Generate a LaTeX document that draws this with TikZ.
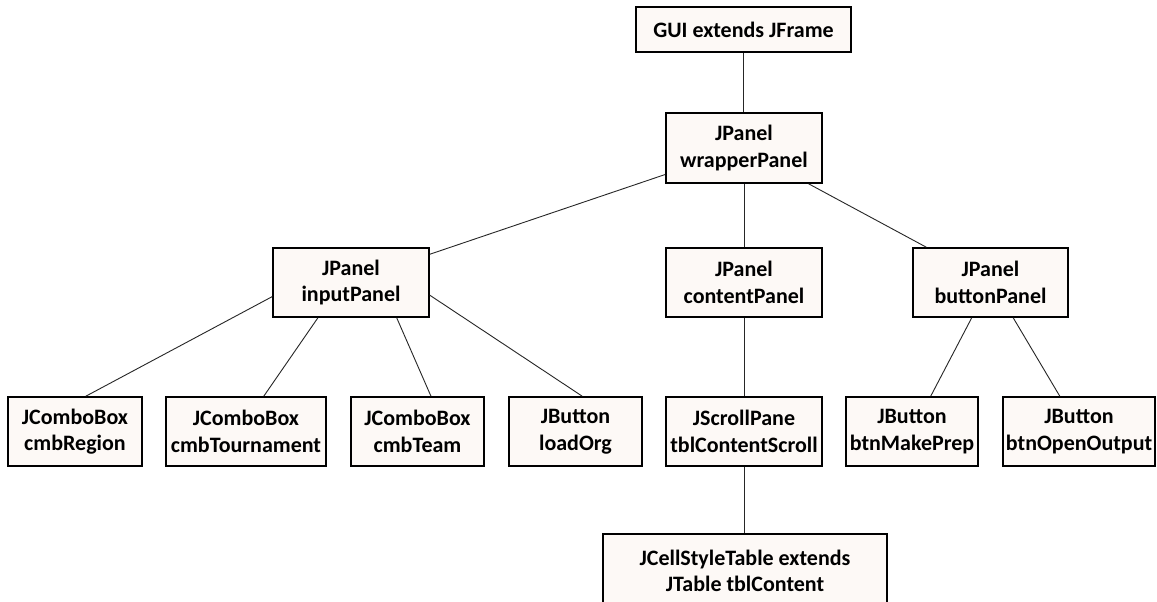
\documentclass[tikz,border=0pt]{standalone}
\usepackage{fontspec}
\setmainfont{Carlito}
\usetikzlibrary{calc,shadows}
\definecolor{boxfill}{RGB}{253,249,246}
\tikzset{
  cls/.style={draw=black, line width=1.6pt, fill=boxfill, inner sep=0pt,
    minimum height=69pt, align=center,
    font=\fontsize{22}{26.5}\selectfont\bfseries,
    drop shadow={shadow xshift=1.2pt, shadow yshift=-1.2pt, fill=black!30, opacity=0.6}},
  link/.style={draw=black!85, line width=0.9pt}
}
\begin{document}
\begin{tikzpicture}[x=1pt,y=-1pt]
\clip (0,0) rectangle (1157,602);
\fill[white] (0,0) rectangle (1157,602);
\node[cls, minimum width=215pt, minimum height=45pt] (gui) at (743.5,29.5) {GUI extends JFrame};
\node[cls, minimum width=156pt, minimum height=70pt] (wrap) at (744,148) {JPanel\\wrapperPanel};
\node[cls, minimum width=156pt] (inp) at (351,282.5) {JPanel\\inputPanel};
\node[cls, minimum width=156pt] (cont) at (744,282.5) {JPanel\\contentPanel};
\node[cls, minimum width=155pt] (btnp) at (990.5,282.5) {JPanel\\buttonPanel};
\node[cls, minimum width=134pt] (reg) at (75,431.5) {JComboBox\\cmbRegion};
\node[cls, minimum width=160pt] (tour) at (246,431.5) {JComboBox\\cmbTournament};
\node[cls, minimum width=133pt] (team) at (417.5,431.5) {JComboBox\\cmbTeam};
\node[cls, minimum width=133pt] (load) at (575.5,431.5) {JButton\\loadOrg};
\node[cls, minimum width=156pt] (scroll) at (744,431.5) {JScrollPane\\tblContentScroll};
\node[cls, minimum width=132pt] (make) at (912,431.5) {JButton\\btnMakePrep};
\node[cls, minimum width=152pt] (open) at (1079,431.5) {JButton\\btnOpenOutput};
\node[cls, minimum width=284pt, minimum height=74pt] (table) at (745,571) {JCellStyleTable extends\\JTable tblContent};

\draw[link] (gui.south) -- (gui.south |- wrap.north);
\draw[link] ($(wrap.north west)!0.87!(wrap.south west)$) -- ($(inp.north east)!0.1!(inp.south east)$);
\draw[link] (wrap.south) -- (cont.north);
\draw[link] ($(wrap.south west)!0.91!(wrap.south east)$) -- ($(btnp.north west)!0.09!(btnp.north east)$);
\draw[link] ($(inp.north west)!0.7!(inp.south west)$) -- ($(reg.north west)!0.58!(reg.north east)$);
\draw[link] ($(inp.south west)!0.29!(inp.south east)$) -- ($(tour.north west)!0.61!(tour.north east)$);
\draw[link] ($(inp.south west)!0.79!(inp.south east)$) -- ($(team.north west)!0.6!(team.north east)$);
\draw[link] ($(inp.north east)!0.68!(inp.south east)$) -- ($(load.north west)!0.55!(load.north east)$);
\draw[link] (cont.south) -- (scroll.north);
\draw[link] (scroll.south) -- (scroll.south |- table.north);
\draw[link] ($(btnp.south west)!0.38!(btnp.south east)$) -- ($(make.north west)!0.64!(make.north east)$);
\draw[link] ($(btnp.south west)!0.645!(btnp.south east)$) -- ($(open.north west)!0.375!(open.north east)$);
\end{tikzpicture}
\end{document}
